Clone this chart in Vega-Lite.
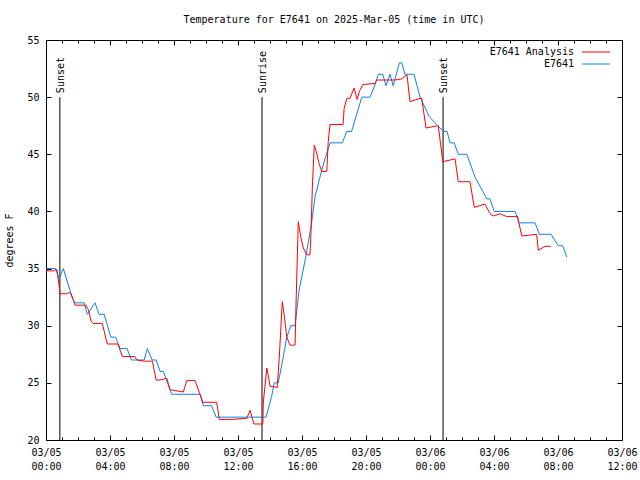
{
  "$schema": "https://vega.github.io/schema/vega-lite/v6.json",
  "width": 576,
  "height": 400,
  "autosize": {"type": "none"},
  "padding": {"left": 46, "top": 40, "right": 18, "bottom": 40},
  "background": "white",
  "title": {
    "text": "Temperature for E7641 on 2025-Mar-05 (time in UTC)",
    "font": "DejaVu Sans Mono",
    "fontSize": 10,
    "fontWeight": "normal",
    "color": "black",
    "anchor": "middle",
    "offset": 10
  },
  "config": {
    "view": {"stroke": "black", "strokeWidth": 1},
    "axis": {
      "domain": false,
      "grid": false,
      "tickColor": "black",
      "labelColor": "black",
      "labelFont": "DejaVu Sans Mono",
      "labelFontSize": 10,
      "titleFont": "DejaVu Sans Mono",
      "titleFontSize": 10,
      "titleFontWeight": "normal",
      "titleColor": "black"
    }
  },
  "datasets": {
    "obs": [
      {"t": "2025-03-05T00:00:00Z", "temp": 35.0, "series": "E7641"},
      {"t": "2025-03-05T00:36:00Z", "temp": 35.0, "series": "E7641"},
      {"t": "2025-03-05T00:49:00Z", "temp": 34.1, "series": "E7641"},
      {"t": "2025-03-05T01:05:00Z", "temp": 35.0, "series": "E7641"},
      {"t": "2025-03-05T01:39:00Z", "temp": 32.4, "series": "E7641"},
      {"t": "2025-03-05T01:49:00Z", "temp": 32.0, "series": "E7641"},
      {"t": "2025-03-05T02:23:00Z", "temp": 32.0, "series": "E7641"},
      {"t": "2025-03-05T02:35:00Z", "temp": 31.0, "series": "E7641"},
      {"t": "2025-03-05T03:04:00Z", "temp": 32.0, "series": "E7641"},
      {"t": "2025-03-05T03:19:00Z", "temp": 31.0, "series": "E7641"},
      {"t": "2025-03-05T03:38:00Z", "temp": 31.0, "series": "E7641"},
      {"t": "2025-03-05T04:03:00Z", "temp": 29.0, "series": "E7641"},
      {"t": "2025-03-05T04:21:00Z", "temp": 29.0, "series": "E7641"},
      {"t": "2025-03-05T04:38:00Z", "temp": 28.0, "series": "E7641"},
      {"t": "2025-03-05T05:04:00Z", "temp": 28.0, "series": "E7641"},
      {"t": "2025-03-05T05:20:00Z", "temp": 27.0, "series": "E7641"},
      {"t": "2025-03-05T06:08:00Z", "temp": 27.0, "series": "E7641"},
      {"t": "2025-03-05T06:20:00Z", "temp": 28.0, "series": "E7641"},
      {"t": "2025-03-05T06:38:00Z", "temp": 27.0, "series": "E7641"},
      {"t": "2025-03-05T06:53:00Z", "temp": 27.0, "series": "E7641"},
      {"t": "2025-03-05T07:08:00Z", "temp": 26.0, "series": "E7641"},
      {"t": "2025-03-05T07:20:00Z", "temp": 26.0, "series": "E7641"},
      {"t": "2025-03-05T07:51:00Z", "temp": 24.0, "series": "E7641"},
      {"t": "2025-03-05T09:38:00Z", "temp": 24.0, "series": "E7641"},
      {"t": "2025-03-05T09:50:00Z", "temp": 23.0, "series": "E7641"},
      {"t": "2025-03-05T10:21:00Z", "temp": 23.0, "series": "E7641"},
      {"t": "2025-03-05T10:38:00Z", "temp": 22.0, "series": "E7641"},
      {"t": "2025-03-05T13:45:00Z", "temp": 22.0, "series": "E7641"},
      {"t": "2025-03-05T14:06:00Z", "temp": 23.8, "series": "E7641"},
      {"t": "2025-03-05T14:16:00Z", "temp": 25.0, "series": "E7641"},
      {"t": "2025-03-05T14:31:00Z", "temp": 25.0, "series": "E7641"},
      {"t": "2025-03-05T14:50:00Z", "temp": 27.3, "series": "E7641"},
      {"t": "2025-03-05T15:03:00Z", "temp": 29.0, "series": "E7641"},
      {"t": "2025-03-05T15:18:00Z", "temp": 30.0, "series": "E7641"},
      {"t": "2025-03-05T15:34:00Z", "temp": 30.0, "series": "E7641"},
      {"t": "2025-03-05T15:49:00Z", "temp": 33.1, "series": "E7641"},
      {"t": "2025-03-05T16:14:00Z", "temp": 36.0, "series": "E7641"},
      {"t": "2025-03-05T16:36:00Z", "temp": 39.0, "series": "E7641"},
      {"t": "2025-03-05T16:49:00Z", "temp": 41.3, "series": "E7641"},
      {"t": "2025-03-05T17:14:00Z", "temp": 43.6, "series": "E7641"},
      {"t": "2025-03-05T17:29:00Z", "temp": 44.8, "series": "E7641"},
      {"t": "2025-03-05T17:45:00Z", "temp": 46.0, "series": "E7641"},
      {"t": "2025-03-05T18:31:00Z", "temp": 46.0, "series": "E7641"},
      {"t": "2025-03-05T18:48:00Z", "temp": 47.0, "series": "E7641"},
      {"t": "2025-03-05T19:06:00Z", "temp": 47.0, "series": "E7641"},
      {"t": "2025-03-05T19:44:00Z", "temp": 50.0, "series": "E7641"},
      {"t": "2025-03-05T20:15:00Z", "temp": 50.0, "series": "E7641"},
      {"t": "2025-03-05T20:34:00Z", "temp": 51.1, "series": "E7641"},
      {"t": "2025-03-05T20:46:00Z", "temp": 52.0, "series": "E7641"},
      {"t": "2025-03-05T21:03:00Z", "temp": 52.0, "series": "E7641"},
      {"t": "2025-03-05T21:15:00Z", "temp": 51.0, "series": "E7641"},
      {"t": "2025-03-05T21:30:00Z", "temp": 52.0, "series": "E7641"},
      {"t": "2025-03-05T21:42:00Z", "temp": 51.0, "series": "E7641"},
      {"t": "2025-03-05T22:05:00Z", "temp": 53.0, "series": "E7641"},
      {"t": "2025-03-05T22:14:00Z", "temp": 53.0, "series": "E7641"},
      {"t": "2025-03-05T22:26:00Z", "temp": 52.0, "series": "E7641"},
      {"t": "2025-03-05T23:00:00Z", "temp": 52.0, "series": "E7641"},
      {"t": "2025-03-05T23:23:00Z", "temp": 50.0, "series": "E7641"},
      {"t": "2025-03-05T23:57:00Z", "temp": 48.3, "series": "E7641"},
      {"t": "2025-03-06T00:25:00Z", "temp": 47.6, "series": "E7641"},
      {"t": "2025-03-06T00:50:00Z", "temp": 47.0, "series": "E7641"},
      {"t": "2025-03-06T01:04:00Z", "temp": 47.0, "series": "E7641"},
      {"t": "2025-03-06T01:15:00Z", "temp": 46.0, "series": "E7641"},
      {"t": "2025-03-06T01:31:00Z", "temp": 46.0, "series": "E7641"},
      {"t": "2025-03-06T01:46:00Z", "temp": 45.0, "series": "E7641"},
      {"t": "2025-03-06T02:18:00Z", "temp": 45.0, "series": "E7641"},
      {"t": "2025-03-06T02:49:00Z", "temp": 43.0, "series": "E7641"},
      {"t": "2025-03-06T03:33:00Z", "temp": 41.1, "series": "E7641"},
      {"t": "2025-03-06T03:45:00Z", "temp": 41.1, "series": "E7641"},
      {"t": "2025-03-06T04:01:00Z", "temp": 40.0, "series": "E7641"},
      {"t": "2025-03-06T05:19:00Z", "temp": 40.0, "series": "E7641"},
      {"t": "2025-03-06T05:34:00Z", "temp": 39.0, "series": "E7641"},
      {"t": "2025-03-06T06:34:00Z", "temp": 39.0, "series": "E7641"},
      {"t": "2025-03-06T06:50:00Z", "temp": 38.0, "series": "E7641"},
      {"t": "2025-03-06T07:34:00Z", "temp": 38.0, "series": "E7641"},
      {"t": "2025-03-06T08:01:00Z", "temp": 37.0, "series": "E7641"},
      {"t": "2025-03-06T08:18:00Z", "temp": 37.0, "series": "E7641"},
      {"t": "2025-03-06T08:33:00Z", "temp": 36.0, "series": "E7641"},

      {"t": "2025-03-05T00:00:00Z", "temp": 34.8, "series": "E7641 Analysis"},
      {"t": "2025-03-05T00:30:00Z", "temp": 34.8, "series": "E7641 Analysis"},
      {"t": "2025-03-05T00:34:00Z", "temp": 34.9, "series": "E7641 Analysis"},
      {"t": "2025-03-05T00:41:00Z", "temp": 34.9, "series": "E7641 Analysis"},
      {"t": "2025-03-05T00:53:00Z", "temp": 32.8, "series": "E7641 Analysis"},
      {"t": "2025-03-05T01:20:00Z", "temp": 32.8, "series": "E7641 Analysis"},
      {"t": "2025-03-05T01:26:00Z", "temp": 32.9, "series": "E7641 Analysis"},
      {"t": "2025-03-05T01:34:00Z", "temp": 32.8, "series": "E7641 Analysis"},
      {"t": "2025-03-05T01:49:00Z", "temp": 31.8, "series": "E7641 Analysis"},
      {"t": "2025-03-05T02:29:00Z", "temp": 31.8, "series": "E7641 Analysis"},
      {"t": "2025-03-05T02:39:00Z", "temp": 31.4, "series": "E7641 Analysis"},
      {"t": "2025-03-05T02:49:00Z", "temp": 30.4, "series": "E7641 Analysis"},
      {"t": "2025-03-05T02:57:00Z", "temp": 30.2, "series": "E7641 Analysis"},
      {"t": "2025-03-05T03:31:00Z", "temp": 30.2, "series": "E7641 Analysis"},
      {"t": "2025-03-05T03:50:00Z", "temp": 28.4, "series": "E7641 Analysis"},
      {"t": "2025-03-05T04:30:00Z", "temp": 28.4, "series": "E7641 Analysis"},
      {"t": "2025-03-05T04:46:00Z", "temp": 27.3, "series": "E7641 Analysis"},
      {"t": "2025-03-05T05:33:00Z", "temp": 27.3, "series": "E7641 Analysis"},
      {"t": "2025-03-05T05:41:00Z", "temp": 27.0, "series": "E7641 Analysis"},
      {"t": "2025-03-05T06:08:00Z", "temp": 26.9, "series": "E7641 Analysis"},
      {"t": "2025-03-05T06:39:00Z", "temp": 26.9, "series": "E7641 Analysis"},
      {"t": "2025-03-05T06:53:00Z", "temp": 25.25, "series": "E7641 Analysis"},
      {"t": "2025-03-05T07:08:00Z", "temp": 25.25, "series": "E7641 Analysis"},
      {"t": "2025-03-05T07:33:00Z", "temp": 25.4, "series": "E7641 Analysis"},
      {"t": "2025-03-05T07:45:00Z", "temp": 24.4, "series": "E7641 Analysis"},
      {"t": "2025-03-05T08:35:00Z", "temp": 24.2, "series": "E7641 Analysis"},
      {"t": "2025-03-05T08:48:00Z", "temp": 25.2, "series": "E7641 Analysis"},
      {"t": "2025-03-05T09:19:00Z", "temp": 25.2, "series": "E7641 Analysis"},
      {"t": "2025-03-05T09:48:00Z", "temp": 23.3, "series": "E7641 Analysis"},
      {"t": "2025-03-05T10:40:00Z", "temp": 23.3, "series": "E7641 Analysis"},
      {"t": "2025-03-05T10:50:00Z", "temp": 21.8, "series": "E7641 Analysis"},
      {"t": "2025-03-05T11:36:00Z", "temp": 21.8, "series": "E7641 Analysis"},
      {"t": "2025-03-05T12:33:00Z", "temp": 21.9, "series": "E7641 Analysis"},
      {"t": "2025-03-05T12:45:00Z", "temp": 22.6, "series": "E7641 Analysis"},
      {"t": "2025-03-05T13:00:00Z", "temp": 21.4, "series": "E7641 Analysis"},
      {"t": "2025-03-05T13:33:00Z", "temp": 21.4, "series": "E7641 Analysis"},
      {"t": "2025-03-05T13:35:00Z", "temp": 23.3, "series": "E7641 Analysis"},
      {"t": "2025-03-05T13:48:00Z", "temp": 26.3, "series": "E7641 Analysis"},
      {"t": "2025-03-05T13:53:00Z", "temp": 25.7, "series": "E7641 Analysis"},
      {"t": "2025-03-05T14:00:00Z", "temp": 24.7, "series": "E7641 Analysis"},
      {"t": "2025-03-05T14:27:00Z", "temp": 24.6, "series": "E7641 Analysis"},
      {"t": "2025-03-05T14:35:00Z", "temp": 27.3, "series": "E7641 Analysis"},
      {"t": "2025-03-05T14:46:00Z", "temp": 32.1, "series": "E7641 Analysis"},
      {"t": "2025-03-05T14:54:00Z", "temp": 30.8, "series": "E7641 Analysis"},
      {"t": "2025-03-05T15:03:00Z", "temp": 29.0, "series": "E7641 Analysis"},
      {"t": "2025-03-05T15:15:00Z", "temp": 28.3, "series": "E7641 Analysis"},
      {"t": "2025-03-05T15:34:00Z", "temp": 28.3, "series": "E7641 Analysis"},
      {"t": "2025-03-05T15:38:00Z", "temp": 32.2, "series": "E7641 Analysis"},
      {"t": "2025-03-05T15:46:00Z", "temp": 39.1, "series": "E7641 Analysis"},
      {"t": "2025-03-05T15:55:00Z", "temp": 37.8, "series": "E7641 Analysis"},
      {"t": "2025-03-05T16:05:00Z", "temp": 36.8, "series": "E7641 Analysis"},
      {"t": "2025-03-05T16:18:00Z", "temp": 36.2, "series": "E7641 Analysis"},
      {"t": "2025-03-05T16:30:00Z", "temp": 36.2, "series": "E7641 Analysis"},
      {"t": "2025-03-05T16:34:00Z", "temp": 38.4, "series": "E7641 Analysis"},
      {"t": "2025-03-05T16:39:00Z", "temp": 42.2, "series": "E7641 Analysis"},
      {"t": "2025-03-05T16:46:00Z", "temp": 45.8, "series": "E7641 Analysis"},
      {"t": "2025-03-05T16:55:00Z", "temp": 45.1, "series": "E7641 Analysis"},
      {"t": "2025-03-05T17:04:00Z", "temp": 44.2, "series": "E7641 Analysis"},
      {"t": "2025-03-05T17:14:00Z", "temp": 43.5, "series": "E7641 Analysis"},
      {"t": "2025-03-05T17:33:00Z", "temp": 43.5, "series": "E7641 Analysis"},
      {"t": "2025-03-05T17:38:00Z", "temp": 46.0, "series": "E7641 Analysis"},
      {"t": "2025-03-05T17:45:00Z", "temp": 47.6, "series": "E7641 Analysis"},
      {"t": "2025-03-05T18:34:00Z", "temp": 47.6, "series": "E7641 Analysis"},
      {"t": "2025-03-05T18:38:00Z", "temp": 49.0, "series": "E7641 Analysis"},
      {"t": "2025-03-05T18:48:00Z", "temp": 49.9, "series": "E7641 Analysis"},
      {"t": "2025-03-05T19:00:00Z", "temp": 49.9, "series": "E7641 Analysis"},
      {"t": "2025-03-05T19:15:00Z", "temp": 50.8, "series": "E7641 Analysis"},
      {"t": "2025-03-05T19:27:00Z", "temp": 49.8, "series": "E7641 Analysis"},
      {"t": "2025-03-05T19:35:00Z", "temp": 50.5, "series": "E7641 Analysis"},
      {"t": "2025-03-05T19:48:00Z", "temp": 51.1, "series": "E7641 Analysis"},
      {"t": "2025-03-05T20:34:00Z", "temp": 51.2, "series": "E7641 Analysis"},
      {"t": "2025-03-05T20:40:00Z", "temp": 51.5, "series": "E7641 Analysis"},
      {"t": "2025-03-05T21:49:00Z", "temp": 51.5, "series": "E7641 Analysis"},
      {"t": "2025-03-05T22:14:00Z", "temp": 51.6, "series": "E7641 Analysis"},
      {"t": "2025-03-05T22:30:00Z", "temp": 51.9, "series": "E7641 Analysis"},
      {"t": "2025-03-05T22:34:00Z", "temp": 51.9, "series": "E7641 Analysis"},
      {"t": "2025-03-05T22:45:00Z", "temp": 49.6, "series": "E7641 Analysis"},
      {"t": "2025-03-05T23:23:00Z", "temp": 49.9, "series": "E7641 Analysis"},
      {"t": "2025-03-05T23:29:00Z", "temp": 49.9, "series": "E7641 Analysis"},
      {"t": "2025-03-05T23:45:00Z", "temp": 47.3, "series": "E7641 Analysis"},
      {"t": "2025-03-06T00:31:00Z", "temp": 47.5, "series": "E7641 Analysis"},
      {"t": "2025-03-06T00:48:00Z", "temp": 44.35, "series": "E7641 Analysis"},
      {"t": "2025-03-06T01:34:00Z", "temp": 44.6, "series": "E7641 Analysis"},
      {"t": "2025-03-06T01:46:00Z", "temp": 42.6, "series": "E7641 Analysis"},
      {"t": "2025-03-06T02:30:00Z", "temp": 42.6, "series": "E7641 Analysis"},
      {"t": "2025-03-06T02:46:00Z", "temp": 40.35, "series": "E7641 Analysis"},
      {"t": "2025-03-06T03:26:00Z", "temp": 40.65, "series": "E7641 Analysis"},
      {"t": "2025-03-06T03:45:00Z", "temp": 39.8, "series": "E7641 Analysis"},
      {"t": "2025-03-06T03:57:00Z", "temp": 39.6, "series": "E7641 Analysis"},
      {"t": "2025-03-06T04:23:00Z", "temp": 39.8, "series": "E7641 Analysis"},
      {"t": "2025-03-06T04:47:00Z", "temp": 39.55, "series": "E7641 Analysis"},
      {"t": "2025-03-06T05:25:00Z", "temp": 39.55, "series": "E7641 Analysis"},
      {"t": "2025-03-06T05:28:00Z", "temp": 39.6, "series": "E7641 Analysis"},
      {"t": "2025-03-06T05:44:00Z", "temp": 37.85, "series": "E7641 Analysis"},
      {"t": "2025-03-06T06:40:00Z", "temp": 38.0, "series": "E7641 Analysis"},
      {"t": "2025-03-06T06:46:00Z", "temp": 36.6, "series": "E7641 Analysis"},
      {"t": "2025-03-06T07:11:00Z", "temp": 36.95, "series": "E7641 Analysis"},
      {"t": "2025-03-06T07:33:00Z", "temp": 36.95, "series": "E7641 Analysis"}
    ],
    "events": [
      {"t": "2025-03-05T00:52:00Z", "label": "Sunset"},
      {"t": "2025-03-05T13:30:00Z", "label": "Sunrise"},
      {"t": "2025-03-06T00:49:00Z", "label": "Sunset"}
    ]
  },
  "layer": [
    {
      "data": {"name": "events"},
      "mark": {"type": "rule", "color": "black", "strokeWidth": 1},
      "encoding": {
        "x": {
          "field": "t",
          "type": "temporal",
          "axis": {
            "orient": "top",
            "title": null,
            "labels": false,
            "tickCount": 36,
            "tickSize": -5,
            "tickDash": {"condition": {"test": "utchours(datum.value) % 4 == 0", "value": []}, "value": [3, 20]}
          }
        },
        "y": {
          "datum": 20,
          "axis": {
            "orient": "right",
            "title": null,
            "labels": false,
            "values": [20, 25, 30, 35, 40, 45, 50, 55],
            "tickSize": -5
          }
        },
        "y2": {"datum": 50}
      }
    },
    {
      "data": {"name": "events"},
      "mark": {"type": "text", "angle": 270, "align": "left", "baseline": "middle", "font": "DejaVu Sans Mono", "fontSize": 10, "color": "black", "dy": 1},
      "encoding": {
        "x": {"field": "t", "type": "temporal", "axis": null},
        "y": {"datum": 50.35, "axis": null},
        "text": {"field": "label"}
      }
    },
    {
      "data": {"name": "obs"},
      "mark": {"type": "line", "strokeWidth": 1, "clip": true},
      "encoding": {
        "x": {
          "field": "t",
          "type": "temporal",
          "scale": {"type": "utc", "domain": [
            {"year": 2025, "month": 3, "date": 5, "hours": 0, "utc": true},
            {"year": 2025, "month": 3, "date": 6, "hours": 12, "utc": true}
          ]},
          "axis": {
            "orient": "bottom",
            "title": null,
            "tickCount": 36,
            "tickSize": -5,
            "tickDash": {"condition": {"test": "utchours(datum.value) % 4 == 0", "value": []}, "value": [3, 20]},
            "labelExpr": "utchours(datum.value) % 4 == 0 ? [utcFormat(datum.value, '%m/%d'), utcFormat(datum.value, '%H:%M')] : ''",
            "labelOverlap": false,
            "labelFlush": false,
            "labelPadding": 12,
            "labelLineHeight": 14
          }
        },
        "y": {
          "field": "temp",
          "type": "quantitative",
          "scale": {"domain": [20, 55], "nice": false, "zero": false},
          "axis": {
            "orient": "left",
            "title": "degrees F",
            "values": [20, 25, 30, 35, 40, 45, 50, 55],
            "tickSize": -5,
            "labelPadding": 12,
            "titlePadding": 12
          }
        },
        "color": {
          "field": "series",
          "type": "nominal",
          "scale": {"domain": ["E7641 Analysis", "E7641"], "range": ["#ff0000", "#0a80f0"]},
          "legend": {
            "title": null,
            "orient": "none",
            "legendX": 543,
            "legendY": 5,
            "padding": 0,
            "symbolType": "M-2.15,0H2.15",
            "symbolSize": 169,
            "symbolStrokeWidth": 1,
            "symbolFillColor": "transparent",
            "labelAlign": "right",
            "labelOffset": -29,
            "rowPadding": 0,
            "labelFont": "DejaVu Sans Mono",
            "labelFontSize": 10,
            "labelColor": "black"
          }
        }
      }
    }
  ]
}
